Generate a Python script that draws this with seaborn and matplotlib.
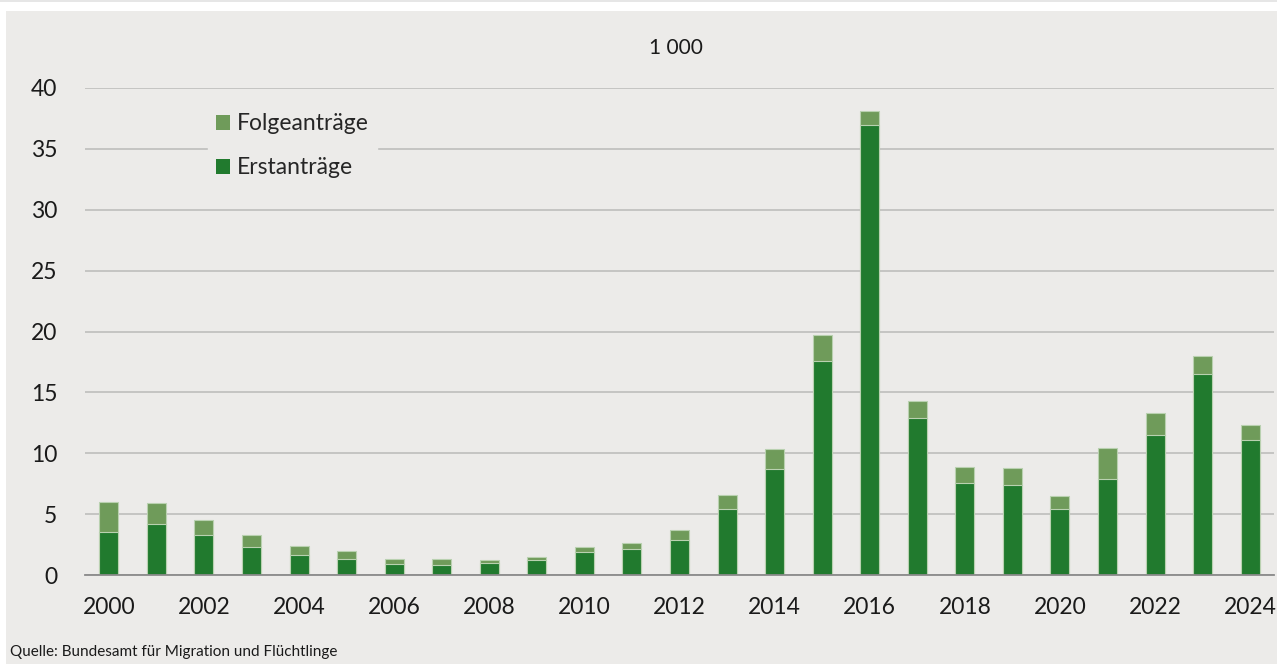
import pandas as pd
import numpy as np
import matplotlib
matplotlib.use("Agg")
import matplotlib.pyplot as plt
import seaborn as sns
from matplotlib.patches import Patch, Rectangle

# Asylanträge (in 1 000)
years = list(range(2000, 2025))
erstantraege = [3.5, 4.2, 3.3, 2.3, 1.65, 1.35, 0.9, 0.8, 1.0, 1.2, 1.9, 2.1,
                2.85, 5.45, 8.7, 17.6, 36.95, 12.9, 7.55, 7.4, 5.4, 7.9, 11.5, 16.5, 11.05]
folgeantraege = [2.5, 1.7, 1.2, 1.0, 0.75, 0.65, 0.45, 0.55, 0.25, 0.3, 0.4, 0.55,
                 0.85, 1.1, 1.65, 2.1, 1.2, 1.4, 1.3, 1.35, 1.1, 2.55, 1.8, 1.5, 1.25]

bg = "#ecebe9"
dark_green = "#217a2e"
light_green = "#6f9b5a"

df = pd.DataFrame({
    "Jahr": [str(y) for y in years],
    "Erstanträge": erstantraege,
    "Folgeanträge": folgeantraege,
})
df["Gesamt"] = df["Erstanträge"] + df["Folgeanträge"]

sns.set_theme(style="white")
plt.rcParams["font.family"] = ["Lato", "DejaVu Sans"]

fig = plt.figure(figsize=(12.77, 6.64), dpi=100)
fig.patch.set_facecolor("white")
fig.patches.append(Rectangle((6 / 1277, 0), 1, 1 - 11 / 664, transform=fig.transFigure,
                             facecolor=bg, edgecolor="none", zorder=-10))
fig.patches.append(Rectangle((0, 1 - 2 / 664), 1, 2 / 664, transform=fig.transFigure,
                             facecolor="#e6e6e6", edgecolor="none", zorder=-10))

ax = fig.add_axes([85 / 1277, 89 / 664, 1189 / 1277, 487 / 664])
ax.set_facecolor(bg)

# stacked bars: total first (Folgeanträge part), then Erstanträge on top of it
sns.barplot(data=df, x="Jahr", y="Gesamt", color=light_green, width=0.4,
            saturation=1, edgecolor="#b9d1b0", linewidth=0.8, ax=ax, zorder=3)
sns.barplot(data=df, x="Jahr", y="Erstanträge", color=dark_green, width=0.4,
            saturation=1, edgecolor="#b9d1b0", linewidth=0.8, ax=ax, zorder=4)

ax.set_ylim(0, 40)
ax.set_xlim(-0.5, len(years) - 0.5)
ax.set_yticks(np.arange(0, 41, 5))
ax.yaxis.grid(True, color="#c4c4c2", linewidth=1.4, zorder=0)
ax.set_axisbelow(True)

even = [i for i, y in enumerate(years) if y % 2 == 0]
ax.set_xticks(even)
ax.set_xticklabels([str(years[i]) for i in even])
ax.set_xticks(np.arange(-0.5, len(years), 1), minor=True)
ax.tick_params(axis="x", which="major", length=0, pad=16, labelsize=16.5, colors="#1a1a1a")
ax.tick_params(axis="x", which="minor", length=9, width=1.3, color="#8a8a8a", direction="out")
ax.tick_params(axis="y", length=0, pad=20, labelsize=16.5, colors="#1a1a1a")

for s in ["top", "right", "left"]:
    ax.spines[s].set_visible(False)
ax.spines["bottom"].set_color("#8a8a8a")
ax.spines["bottom"].set_linewidth(1.3)
ax.spines["bottom"].set_zorder(5)
ax.set_xlabel("")
ax.set_ylabel("")

fig.text(676 / 1277, 1 - 48 / 664, "1 000", ha="center", va="center", fontsize=15, color="#1a1a1a")

handles = [Patch(facecolor=light_green, edgecolor="none", label="Folgeanträge"),
           Patch(facecolor=dark_green, edgecolor="none", label="Erstanträge")]
leg = ax.legend(handles=handles, loc="upper left", bbox_to_anchor=(197 / 1277, 1 - 94 / 664),
                bbox_transform=fig.transFigure, frameon=True, facecolor=bg, edgecolor=bg,
                framealpha=1, fontsize=16.5, handlelength=0.6, handleheight=0.6,
                handletextpad=0.3, labelspacing=1.0, borderpad=0.35, fancybox=False)
leg.set_zorder(6)

fig.text(10 / 1277, 1 - 652 / 664, "Quelle: Bundesamt für Migration und Flüchtlinge",
         ha="left", va="center", fontsize=11, color="#1a1a1a")

fig.savefig("out.png", dpi=100, facecolor=fig.get_facecolor())
